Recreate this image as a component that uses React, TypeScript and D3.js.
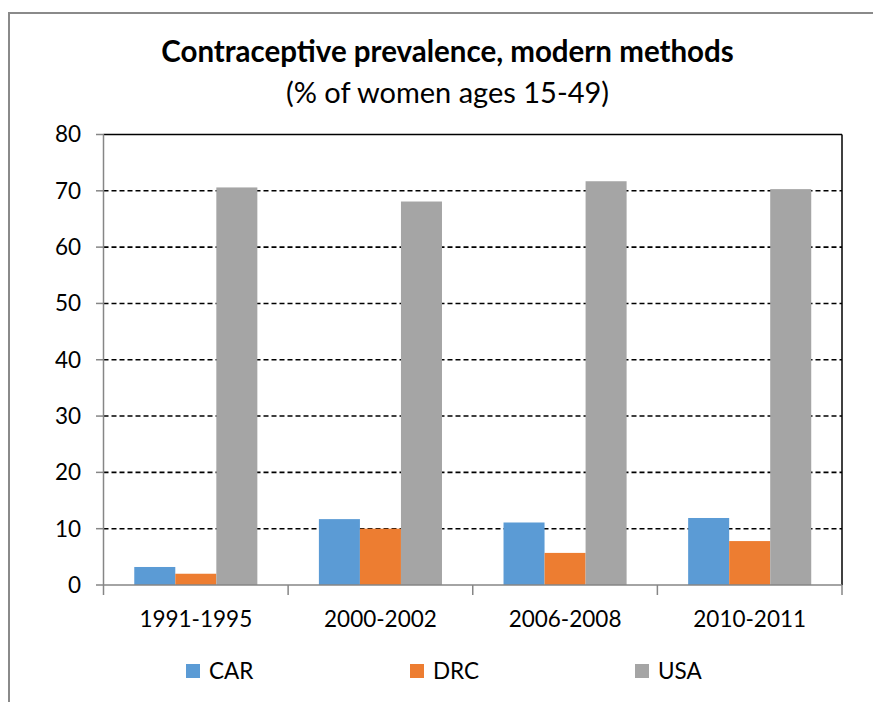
import React from "react";
import * as d3 from "d3";

const categories = ["1991-1995", "2000-2002", "2006-2008", "2010-2011"];
const seriesNames = ["CAR", "DRC", "USA"];
const carValues = [3.2, 11.7, 11.1, 11.9];
const drcValues = [2.0, 10.0, 5.7, 7.8];
const usaValues = [70.6, 68.1, 71.7, 70.3];
const seriesColors = ["#5B9BD5", "#ED7D31", "#A5A5A5"];
const yTicks = [0, 10, 20, 30, 40, 50, 60, 70, 80];

const W = 873;
const H = 702;
const plot = { left: 103.5, right: 842, top: 134.5, bottom: 585 };
const FONT = "Lato, 'Open Sans', sans-serif";

export default function App() {
  const values = [carValues, drcValues, usaValues];
  const x0 = d3.scaleBand<string>().domain(categories).range([plot.left, plot.right]).padding(0);
  const x1 = d3
    .scaleBand<string>()
    .domain(seriesNames)
    .range([0, x0.bandwidth()])
    .paddingInner(0)
    .paddingOuter(0.75);
  const y = d3.scaleLinear().domain([0, 80]).range([plot.bottom, plot.top]);

  const boundaries = categories.map((c) => x0(c) as number).concat([plot.right]);
  const legendX = [186, 410, 635];

  return (
    <svg
      width={W}
      height={H}
      style={{ position: "absolute", left: 0, top: 0, background: "#fff" }}
      fontFamily={FONT}
    >
      {/* outer chart frame */}
      <line x1={8} x2={W} y1={13} y2={13} stroke="#8a8a8a" strokeWidth={2} />
      <line x1={9} x2={9} y1={13} y2={H} stroke="#8a8a8a" strokeWidth={2} />

      {/* title */}
      <text x={447.5} y={62} textAnchor="middle" fontSize={29.5} fontWeight="bold" fill="#000">
        Contraceptive prevalence, modern methods
      </text>
      <text x={447.5} y={103} textAnchor="middle" fontSize={29} fill="#000">
        (% of women ages 15-49)
      </text>

      {/* gridlines */}
      {yTicks
        .filter((t) => t > 0 && t < 80)
        .map((t) => (
          <line
            key={"g" + t}
            x1={plot.left}
            x2={plot.right}
            y1={y(t)}
            y2={y(t)}
            stroke="#000"
            strokeWidth={1.6}
            strokeDasharray="5,3"
          />
        ))}
      <line x1={plot.left} x2={plot.right} y1={y(80)} y2={y(80)} stroke="#000" strokeWidth={1.5} />
      <line x1={plot.right} x2={plot.right} y1={plot.top} y2={plot.bottom} stroke="#000" strokeWidth={1.5} />

      {/* bars */}
      {categories.map((c, i) => (
        <g key={c} transform={`translate(${x0(c)},0)`}>
          {seriesNames.map((s, j) => (
            <rect
              key={s}
              x={x1(s)}
              y={y(values[j][i])}
              width={x1.bandwidth()}
              height={y(0) - y(values[j][i])}
              fill={seriesColors[j]}
            />
          ))}
        </g>
      ))}

      {/* y axis */}
      <line x1={plot.left} x2={plot.left} y1={plot.top} y2={plot.bottom} stroke="#868686" strokeWidth={1.5} />
      {yTicks.map((t) => (
        <g key={"y" + t}>
          <line x1={96} x2={plot.left} y1={y(t)} y2={y(t)} stroke="#868686" strokeWidth={1.5} />
          <text x={81} y={y(t)} dy="0.35em" textAnchor="end" fontSize={22.5} fill="#000">
            {t}
          </text>
        </g>
      ))}

      {/* x axis */}
      <line x1={plot.left} x2={plot.right} y1={plot.bottom} y2={plot.bottom} stroke="#868686" strokeWidth={1.5} />
      {boundaries.map((bx, i) => (
        <line key={"xt" + i} x1={bx} x2={bx} y1={plot.bottom} y2={595} stroke="#868686" strokeWidth={1.5} />
      ))}
      {categories.map((c) => (
        <text
          key={"xl" + c}
          x={(x0(c) as number) + x0.bandwidth() / 2}
          y={627}
          textAnchor="middle"
          fontSize={22.5}
          fill="#000"
        >
          {c}
        </text>
      ))}

      {/* legend */}
      {seriesNames.map((s, j) => (
        <g key={"l" + s}>
          <rect x={legendX[j]} y={664} width={14} height={14} fill={seriesColors[j]} />
          <text x={legendX[j] + 23} y={679} fontSize={22.5} fill="#000">
            {s}
          </text>
        </g>
      ))}
    </svg>
  );
}
